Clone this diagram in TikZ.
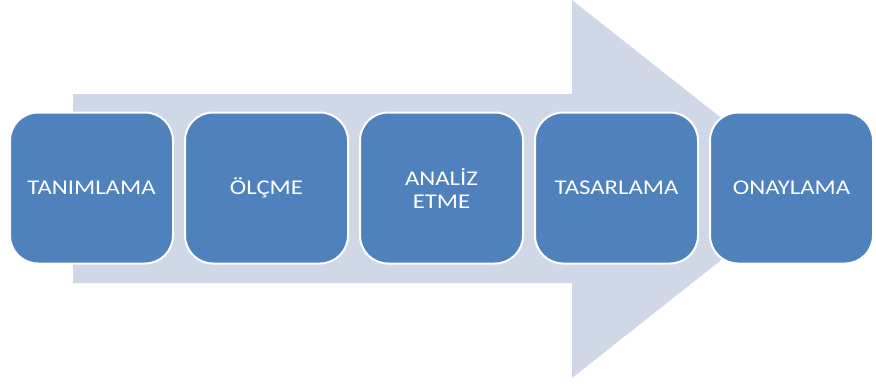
\documentclass[tikz,border=0pt]{standalone}
\usepackage{fontspec}
\setmainfont{Carlito}
\newfontfamily\stepfont[FakeStretch=1.18]{Carlito}
\definecolor{stepblue}{HTML}{4F81BD}
\definecolor{arrowfill}{HTML}{D0D8E8}
\tikzset{
  stepbox/.style={rectangle, rounded corners=28pt, fill=stepblue, draw=white,
    line width=2pt, minimum width=163pt, minimum height=151pt,
    text=white, align=center, inner sep=0pt,
    font=\stepfont\fontsize{21}{23}\selectfont}
}
\begin{document}
\begin{tikzpicture}[x=1pt,y=-1pt]
  \useasboundingbox (0,0) rectangle (876,389);
  % large background arrow
  \fill[arrowfill] (73,94) -- (572,94) -- (572,0) -- (811,189) -- (572,378)
    -- (572,283) -- (73,283) -- cycle;
  % process steps
  \node[stepbox] (s1) at (91.5,188) {TANIMLAMA};
  \node[stepbox] (s2) at (266.5,188) {ÖLÇME};
  \node[stepbox] (s3) at (441.5,188) {ANALİZ\\ETME};
  \node[stepbox] (s4) at (616.5,188) {TASARLAMA};
  \node[stepbox] (s5) at (791.5,188) {ONAYLAMA};
\end{tikzpicture}
\end{document}
